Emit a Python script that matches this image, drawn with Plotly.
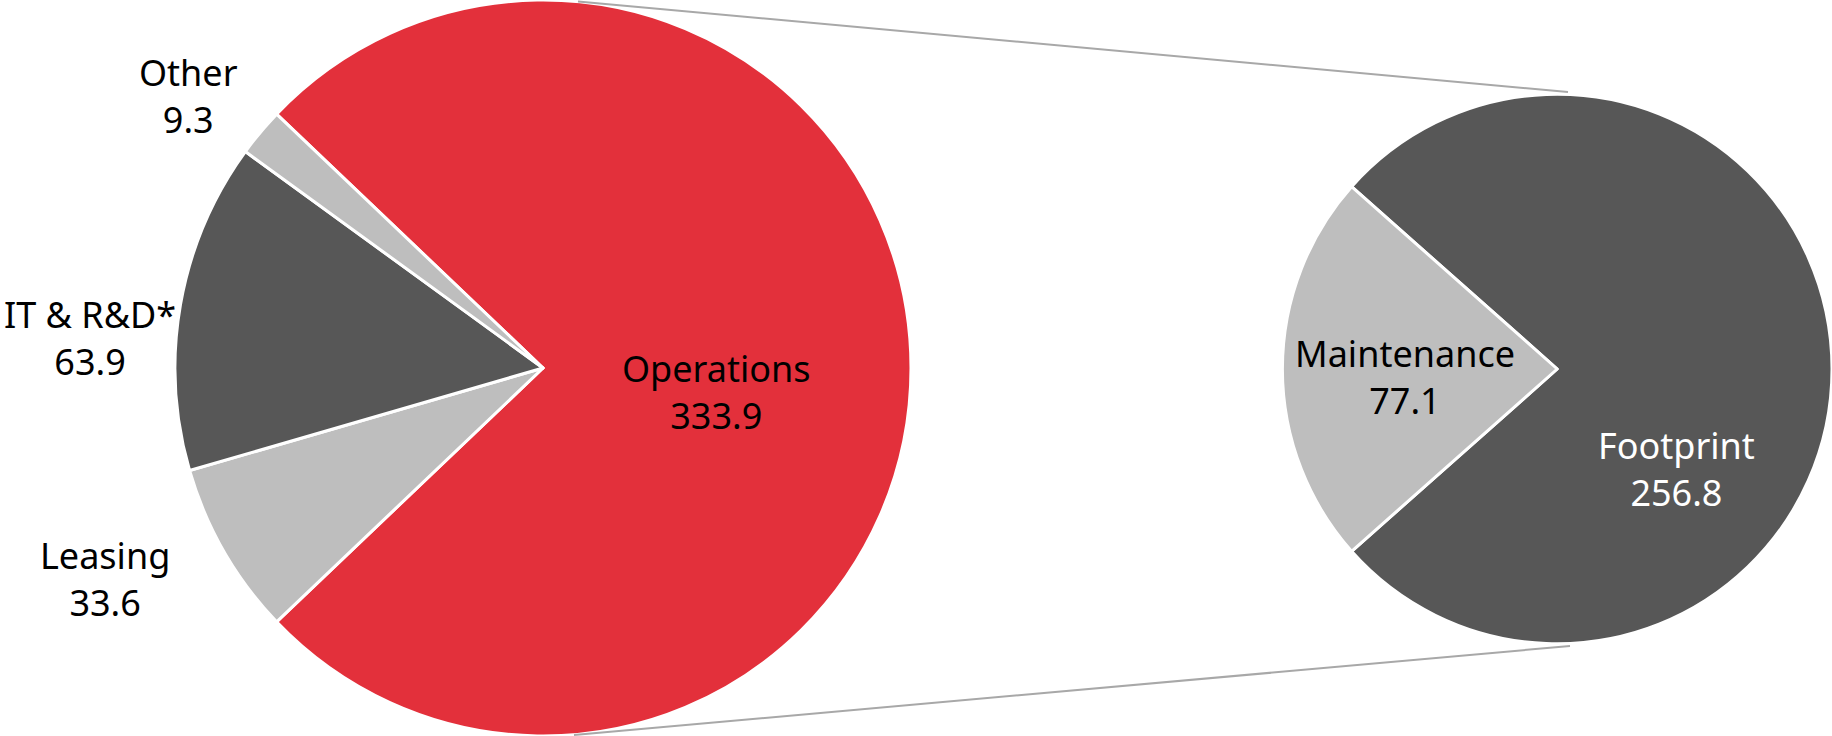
import plotly.graph_objects as go

# ---- data ----
main_labels = ["Operations", "Leasing", "IT & R&D*", "Other"]
main_values = [333.9, 33.6, 63.9, 9.3]
main_colors = ["#E3303B", "#BEBEBE", "#575757", "#BEBEBE"]

sub_labels = ["Footprint", "Maintenance"]
sub_values = [256.8, 77.1]
sub_colors = ["#575757", "#BEBEBE"]

W, H = 1832, 736
FONT = "Noto Sans"
FS = 36


def px(x):
    return x / W


def py(y):
    return 1 - y / H


# rotation: first slice centred on the 3 o'clock direction
main_rot = 90 - main_values[0] / sum(main_values) * 180
sub_rot = 90 - sub_values[0] / sum(sub_values) * 180

fig = go.Figure()
fig.add_trace(go.Pie(
    labels=main_labels, values=main_values, sort=False, direction="clockwise",
    rotation=main_rot,
    marker=dict(colors=main_colors, line=dict(color="white", width=3)),
    textinfo="none", hoverinfo="skip",
    domain=dict(x=[175 / W, 911 / W], y=[0, 1]),
))
fig.add_trace(go.Pie(
    labels=sub_labels, values=sub_values, sort=False, direction="clockwise",
    rotation=sub_rot,
    marker=dict(colors=sub_colors, line=dict(color="white", width=3)),
    textinfo="none", hoverinfo="skip",
    domain=dict(x=[0.70, 1.0], y=[py(369 + 276), py(369 - 276)]),
))

# label anchor points (block centres, in pixels)
label_pos = {
    "Operations": (716, 392, "black"),
    "Leasing": (105, 579, "black"),
    "IT & R&D*": (90, 338, "black"),
    "Other": (188, 96, "black"),
    "Footprint": (1676, 469, "white"),
    "Maintenance": (1405, 377, "black"),
}

annotations = []
for lab, val in list(zip(main_labels, main_values)) + list(zip(sub_labels, sub_values)):
    x, y, c = label_pos[lab]
    annotations.append(dict(
        x=px(x), y=py(y), xref="paper", yref="paper",
        text=f"{lab}<br>{val:.1f}", showarrow=False, align="center",
        xanchor="center", yanchor="middle",
        font=dict(family=FONT, size=FS, color=c),
    ))

shapes = [
    dict(type="line", xref="paper", yref="paper",
         x0=px(578), y0=py(1.5), x1=px(1568), y1=py(92),
         line=dict(color="#A8A8A8", width=2)),
    dict(type="line", xref="paper", yref="paper",
         x0=px(574), y0=py(735), x1=px(1570), y1=py(646),
         line=dict(color="#A8A8A8", width=2)),
]

fig.update_layout(
    width=W, height=H, margin=dict(l=0, r=0, t=0, b=0),
    paper_bgcolor="white", plot_bgcolor="white",
    showlegend=False, annotations=annotations, shapes=shapes,
    font=dict(family=FONT, size=FS),
)

fig.write_html("out.html", config={"displayModeBar": False})
